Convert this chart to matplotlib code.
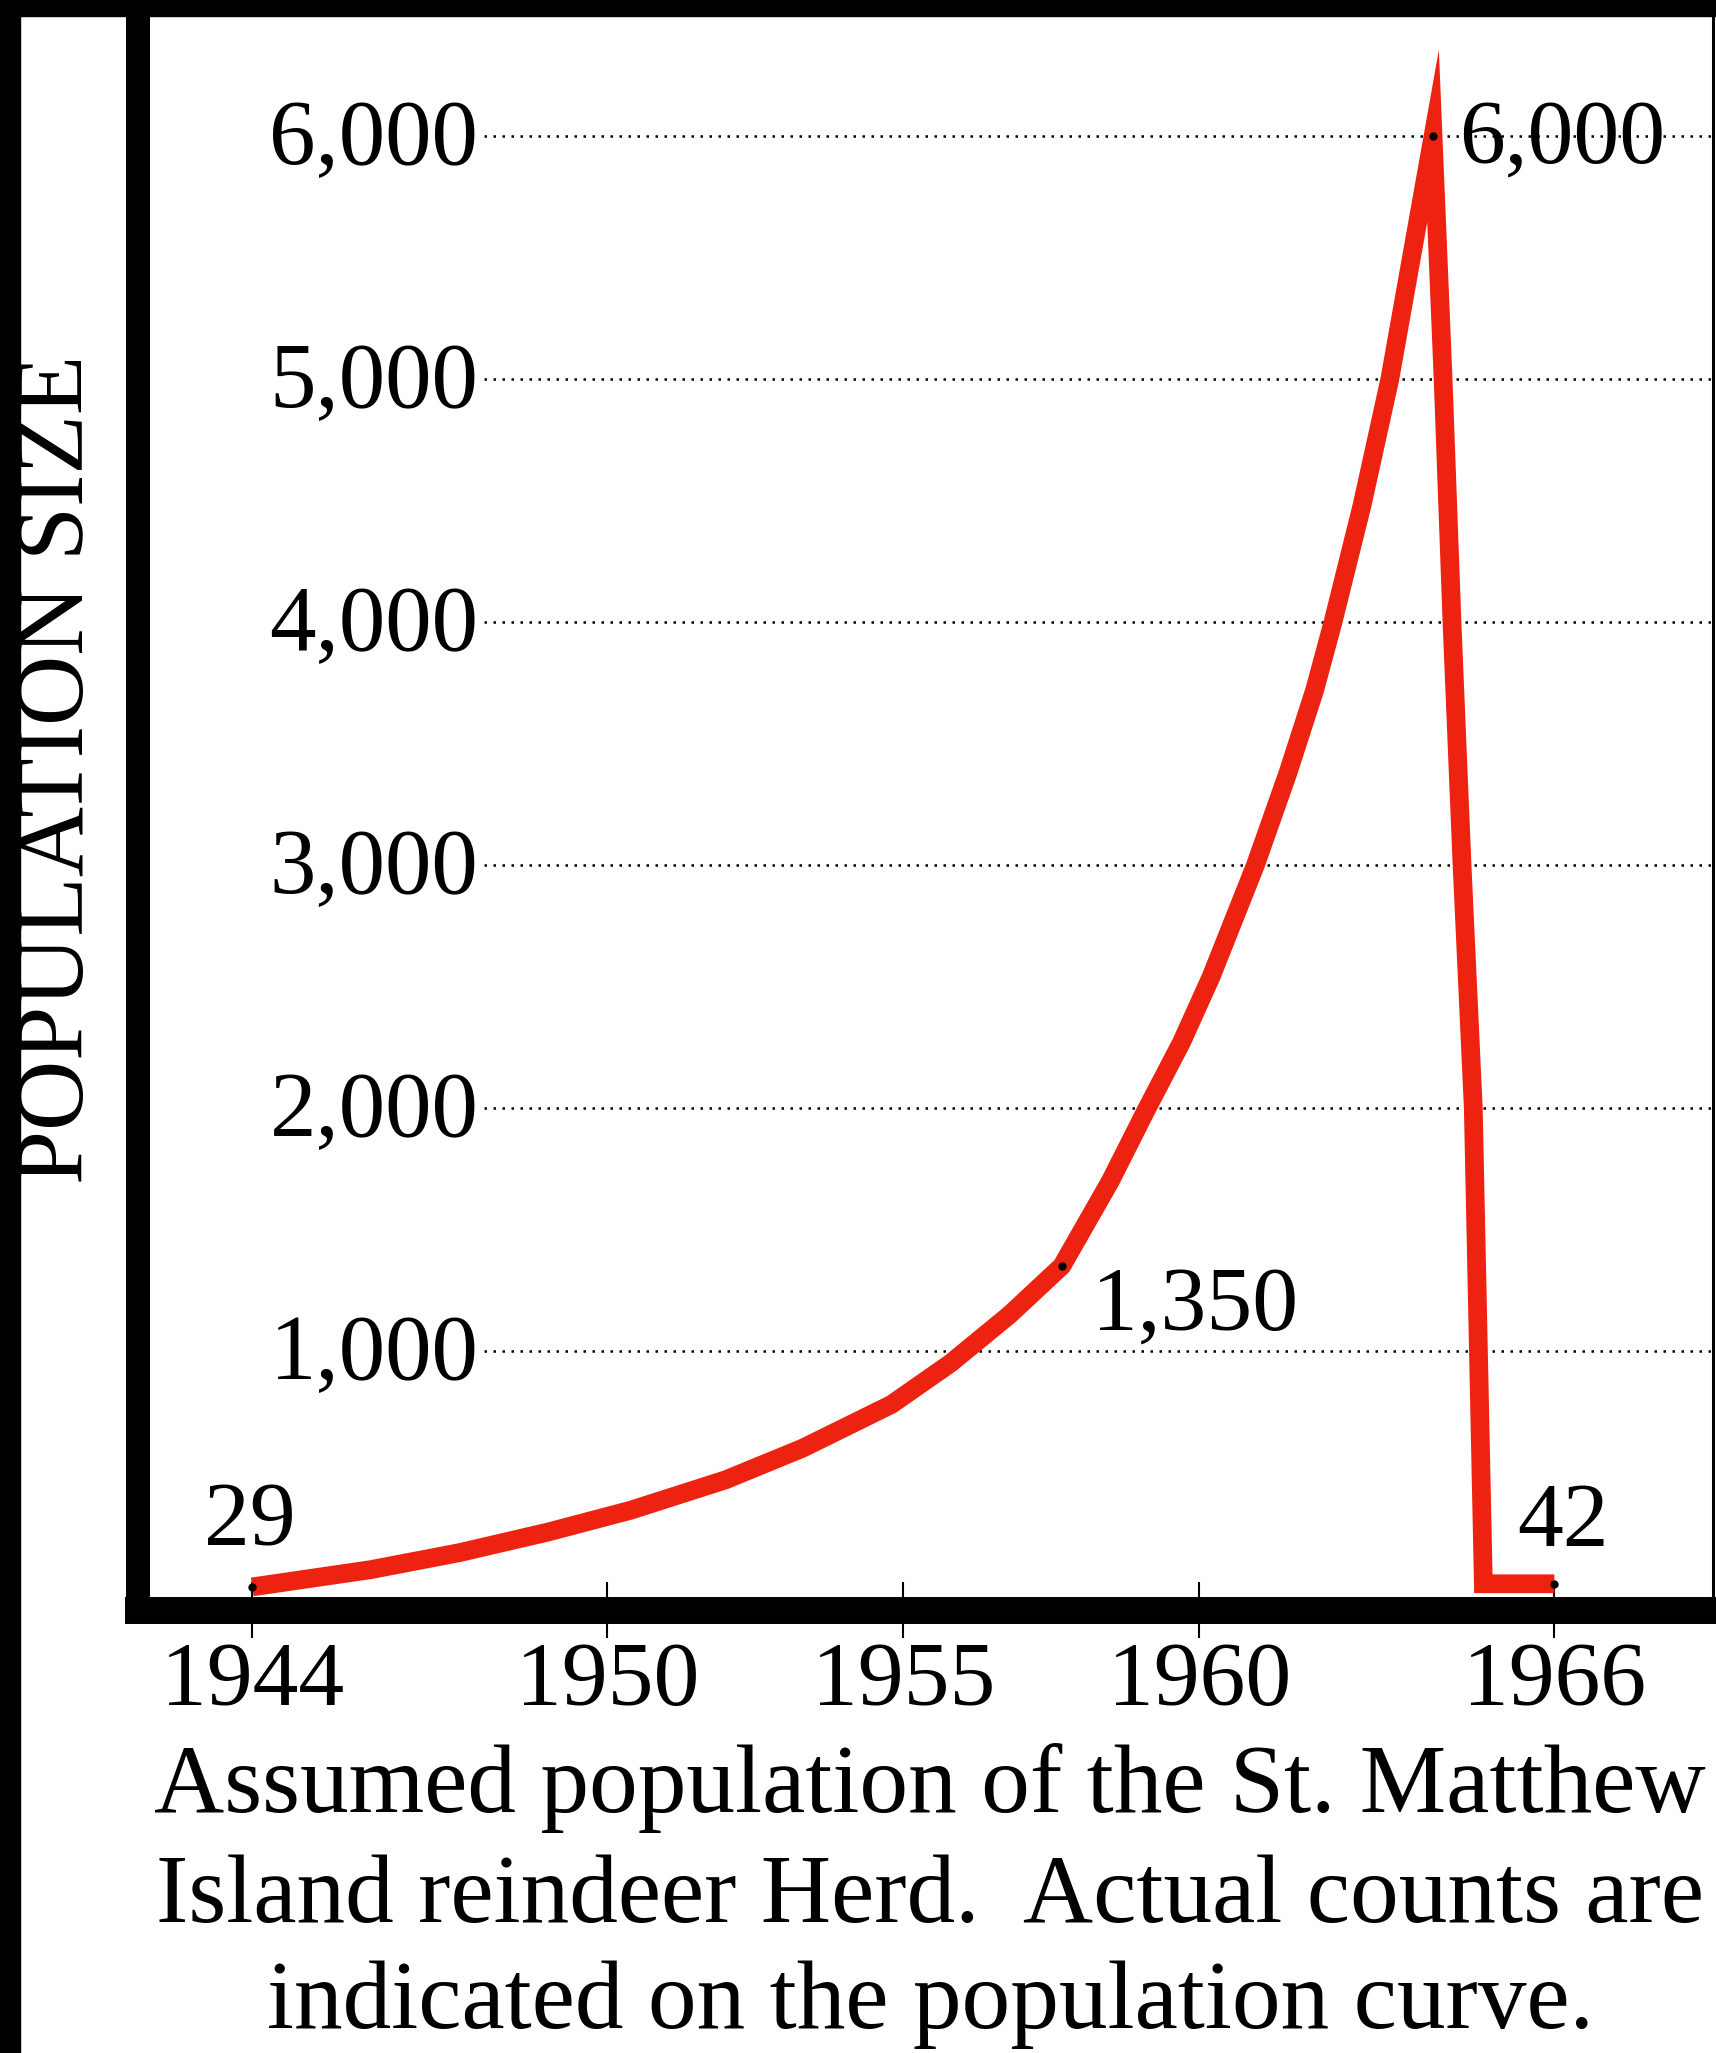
import matplotlib
matplotlib.use("Agg")
import matplotlib.pyplot as plt
from matplotlib.patches import Rectangle

# assumed herd size
years = [1944, 1946, 1947.5, 1949, 1950.4, 1952, 1953.3, 1954.8, 1955.8, 1956.8,
         1957.68, 1958.5, 1959.1, 1959.7, 1960.2, 1960.95, 1961.5, 1961.95,
         1962.26, 1962.75, 1963.22, 1963.95, 1964.12, 1964.27, 1964.44,
         1964.63, 1964.8, 1966]
population = [29, 100, 170, 255, 345, 470, 600, 780, 950, 1150,
              1350, 1700, 1990, 2270, 2540, 3000, 3380, 3720,
              4000, 4480, 5000, 6000, 5000, 4000, 3000,
              2000, 42, 42]

# actual counts marked on the curve
count_years = [1944, 1957.68, 1963.95, 1966]
count_values = [29, 1350, 6000, 42]
count_labels = ["29", "1,350", "6,000", "42"]

grid_values = [1000, 2000, 3000, 4000, 5000, 6000]
grid_labels = ["1,000", "2,000", "3,000", "4,000", "5,000", "6,000"]

xtick_years = [1944, 1950, 1955, 1960, 1966]

caption = [
    "Assumed population of the St. Matthew",
    "Island reindeer Herd.  Actual counts are",
    "indicated on the population curve.",
]

plt.rcParams["font.family"] = ["Liberation Serif", "DejaVu Serif"]

W, H = 1716, 2053
fig = plt.figure(figsize=(W / 100, H / 100), dpi=100)
ax = fig.add_axes([138 / W, (H - 1610) / H, (1713 - 138) / W, 1610 / H])

x_lo, x_hi = 1942.07, 1968.68
ax.set_xlim(x_lo, x_hi)
ax.set_ylim(-66, 6560)

# dotted guide lines start right after the value labels
label_x = 1947.82
ax.hlines(grid_values, label_x + 0.1, x_hi, colors="black", linewidth=1.8,
          linestyles=[(0, (1, 2.6))], zorder=1)
for val, lab in zip(grid_values, grid_labels):
    ax.annotate(lab, xy=(label_x, val), xytext=(0, -20), textcoords="offset points",
                ha="right", va="baseline", fontsize=67)

ax.plot(years, population, color="#ee2210", linewidth=13.5,
        solid_joinstyle="miter", solid_capstyle="butt", zorder=3)
ax.plot(count_years, count_values, "o", color="black", markersize=5, zorder=4)

offsets = [(-1.4, 30, "center"), (22, -46, "left"), (19, -19, "left"), (-27, 27, "left")]
for x, y, lab, (dx, dy, ha) in zip(count_years, count_values, count_labels, offsets):
    ax.annotate(lab, xy=(x, y), xytext=(dx, dy), textcoords="offset points",
                ha=ha, va="baseline", fontsize=66, zorder=5)

ax.set_xticks(xtick_years)
ax.set_xticklabels([str(y) for y in xtick_years], fontsize=66)
ax.set_yticks([])
ax.tick_params(axis="x", direction="inout", length=40, width=1.5, pad=3, color="black")

ax.spines["top"].set_visible(False)
ax.spines["left"].set_linewidth(17.3)
ax.spines["bottom"].set_linewidth(19.4)
ax.spines["right"].set_linewidth(2.2)

# outer black frame on the left and top
fig.patches.append(Rectangle((0, 0), 20 / W, 1, transform=fig.transFigure,
                             color="black", zorder=5))
fig.patches.append(Rectangle((0, 1 - 16 / H), 1, 16 / H, transform=fig.transFigure,
                             color="black", zorder=5))

fig.text(60 / W, (H - 769) / H, "POPULATION SIZE", rotation=90,
         ha="center", va="center", fontsize=70)

for line, base in zip(caption, [1812, 1922, 2028]):
    fig.text(930 / W, (H - base) / H, line, ha="center", va="baseline", fontsize=70)

fig.savefig("out.png", dpi=100, facecolor="white")
